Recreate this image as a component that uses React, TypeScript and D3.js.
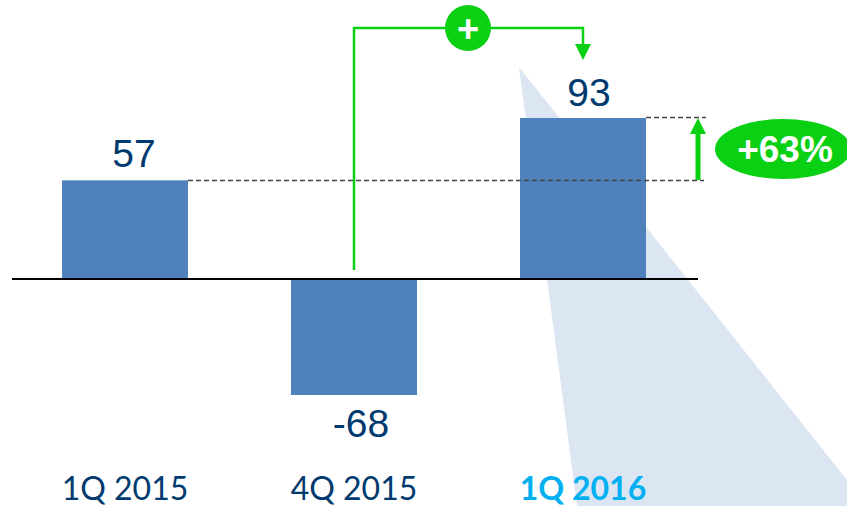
import React from "react";
import * as d3 from "d3";

const categories = ["1Q 2015", "4Q 2015", "1Q 2016"];
const values = [57, -67, 93];
const valueLabels = ["57", "-68", "93"];
const changeLabel = "+63%";
const plusLabel = "+";

const GREEN = "#09D013";
const NAVY = "#003A6E";

export default function App() {
  const x = d3.scaleBand<string>().domain(categories).range([62, 646]).paddingInner(0.4498).paddingOuter(0);
  const y = d3.scaleLinear().domain([0, 93]).range([279, 118]);
  const bw = x.bandwidth();
  const x3 = x(categories[2])!;
  const y57 = y(values[0]);
  const y93 = y(values[2]);
  const labelX = [134, 361, 589];
  const labelY = [167, 437, 106];
  return (
    <svg width={847} height={506} style={{ position: "absolute", left: 0, top: 0 }}>
      <polygon points="519,67 847,480 847,506 577,506" fill="#DCE6F2" />
      {categories.map((c, i) => (
        <rect key={c} x={x(c)} width={bw} y={Math.min(y(values[i]), y(0))} height={Math.abs(y(values[i]) - y(0))} fill="#4F81BD" />
      ))}
      <line x1={12} x2={698} y1={y(0)} y2={y(0)} stroke="#000" strokeWidth={2} />
      <line x1={x(categories[0])! + bw} x2={704} y1={Math.round(y57) + 0.5} y2={Math.round(y57) + 0.5} stroke="#444" strokeWidth={1.3} strokeDasharray="5 3" />
      <line x1={x3 + bw} x2={706} y1={y93 - 0.5} y2={y93 - 0.5} stroke="#444" strokeWidth={1.3} strokeDasharray="5 3" />

      <path d="M354,270 V28 H583 V46" fill="none" stroke={GREEN} strokeWidth={2.5} />
      <polygon points="575,44 591,44 583,60" fill={GREEN} />
      <circle cx={468} cy={28} r={23} fill={GREEN} />
      <text x={468} y={42} textAnchor="middle" fontFamily="'Liberation Sans'" fontWeight={700} fontSize={38} fill="#fff">{plusLabel}</text>

      <line x1={698} x2={698} y1={134} y2={180} stroke={GREEN} strokeWidth={5} />
      <polygon points="690,134 706,134 698,118" fill={GREEN} />
      <ellipse cx={783} cy={149} rx={68} ry={30} fill={GREEN} />
      <text x={785} y={162} textAnchor="middle" fontFamily="'Liberation Sans'" fontWeight={700} fontSize={37} fill="#fff">{changeLabel}</text>

      {categories.map((c, i) => (
        <text key={c} x={labelX[i]} y={labelY[i]} textAnchor="middle" fontFamily="'Liberation Sans'" fontSize={39} fill={NAVY}>
          {valueLabels[i]}
        </text>
      ))}
      {categories.map((c, i) => (
        <text key={c} x={x(c)! + bw / 2} y={500} textAnchor="middle" fontFamily="Lato" fontWeight={i === 2 ? 700 : 400} fontSize={32} fill={i === 2 ? "#00B0F0" : NAVY}>
          {c}
        </text>
      ))}
    </svg>
  );
}
